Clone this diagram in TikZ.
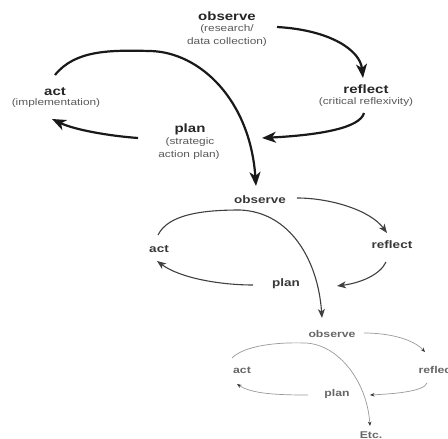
\documentclass[tikz,border=0pt]{standalone}
\usepackage{fontspec}
\setmainfont{Liberation Sans}[FakeStretch=1.25]
\usetikzlibrary{arrows.meta}
\begin{document}
\begin{tikzpicture}[x=1pt,y=-1pt,
  t1/.style={anchor=base,inner sep=0pt,font=\fontsize{12}{14}\selectfont\bfseries,text=black!85},
  s1/.style={anchor=base,inner sep=0pt,font=\fontsize{9.5}{12}\selectfont,text=black!65},
  t2/.style={anchor=base,inner sep=0pt,font=\fontsize{10.8}{13}\selectfont\bfseries,text=black!78},
  t3/.style={anchor=base,inner sep=0pt,font=\fontsize{9.8}{12}\selectfont\bfseries,text=black!60},
  c1/.style={line width=2.2pt,draw=black!90,-{Stealth[length=14pt,width=11pt,inset=4pt]}},
  c2/.style={line width=1.1pt,draw=black!75,-{Stealth[length=9pt,width=7pt,inset=2.5pt]}},
  c3/.style={line width=0.7pt,draw=black!40,-{Stealth[length=4.5pt,width=3.5pt,black!80]}}]
\useasboundingbox (0,0) rectangle (448,439);
% level 1
\node[t1] (o1) at (227,20) {observe};
\node[s1] (o1a) at (227,31) {(research/};
\node[s1] (o1b) at (227,45) {data collection)};
\node[t1] (r1) at (366,93) {reflect};
\node[s1] (r1a) at (366,104) {(critical reflexivity)};
\node[t1] (a1) at (55,95) {act};
\node[s1] (a1a) at (56,105) {(implementation)};
\node[t1] (p1) at (190,132) {plan};
\node[s1] (p1a) at (190,144) {(strategic};
\node[s1] (p1b) at (189,157) {action plan)};
% level 2
\node[t2] (o2) at (260,203) {observe};
\node[t2] (r2) at (392,248) {reflect};
\node[t2] (a2) at (159,252) {act};
\node[t2] (p2) at (286,286) {plan};
% level 3
\node[t3] (o3) at (332,337) {observe};
\node[t3] (r3) at (437,373) {reflect};
\node[t3] (a3) at (242,373) {act};
\node[t3] (p3) at (337,396) {plan};
\node[t3] (etc) at (371,438) {Etc.};
\coordinate (k1) at (150,51);
\coordinate (k2) at (240,210);
\coordinate (k3) at (305,343);
% level 1 connectors
\draw[c1] ([shift={(50,7)}]o1.base) .. controls (330,30) and (360,50) .. ([shift={(-3,-15)}]r1.base);
\draw[c1] ([shift={(-2,20)}]r1.base) .. controls (360,128) and (320,135) .. ([shift={(72,6)}]p1.base);
\draw[c1] ([shift={(-52,6)}]p1.base) .. controls (110,136) and (75,130) .. ([shift={(-3,24)}]a1.base);
\draw[c1] ([shift={(0,-20)}]a1.base) .. controls (75,50) and (110,50) .. (k1)
  .. controls (200,52) and (250,100) .. ([shift={(-4,-17)}]o2.base);
% level 2 connectors
\draw[c2] ([shift={(37,-5)}]o2.base) .. controls (330,198) and (370,210) .. ([shift={(-5,-15)}]r2.base);
\draw[c2] ([shift={(-6,14)}]r2.base) .. controls (380,275) and (360,283) .. ([shift={(51,0)}]p2.base);
\draw[c2] ([shift={(-33,-1)}]p2.base) .. controls (220,285) and (180,278) .. ([shift={(-2,9)}]a2.base);
\draw[c2] ([shift={(-1,-17)}]a2.base) .. controls (168,215) and (200,210) .. (k2)
  .. controls (290,212) and (318,260) .. ([shift={(-10,-19)}]o3.base);
% level 3 connectors
\draw[c3] ([shift={(32,-4)}]o3.base) .. controls (389,333) and (413,339) .. ([shift={(-12,-21)}]r3.base);
\draw[c3] ([shift={(-10,10)}]r3.base) .. controls (424,392) and (390,394) .. ([shift={(33,-1)}]p3.base);
\draw[c3] ([shift={(-29,-1)}]p3.base) .. controls (278,395) and (252,394) .. ([shift={(-5,11)}]a3.base);
\draw[c3] ([shift={(-10,-15)}]a3.base) .. controls (244,346) and (275,342) .. (k3)
  .. controls (338,344) and (367,381) .. ([shift={(-1,-12)}]etc.base);
\end{tikzpicture}
\end{document}
